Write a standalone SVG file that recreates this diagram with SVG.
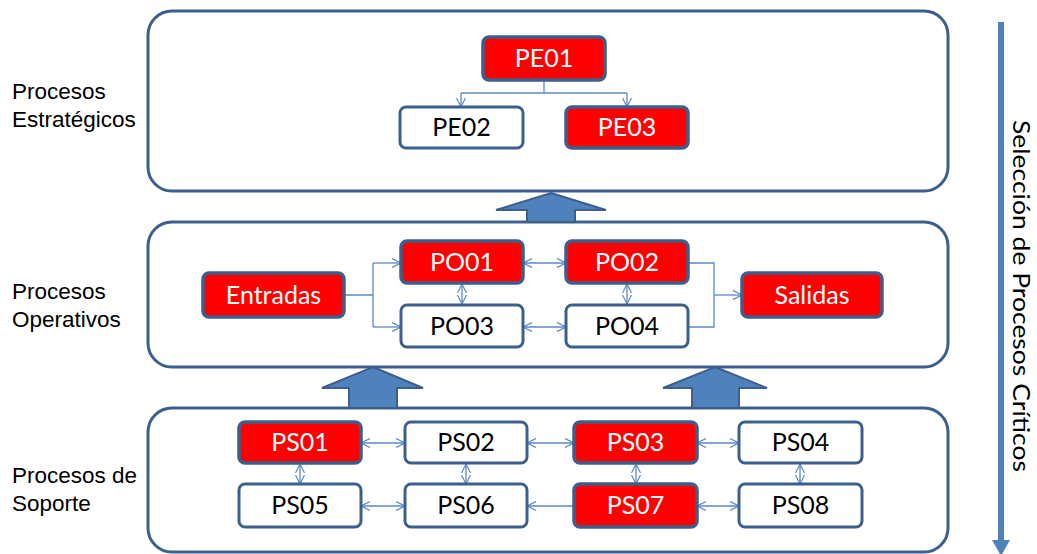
<svg xmlns="http://www.w3.org/2000/svg" width="1037" height="554" viewBox="0 0 1037 554">
<style>
.cont{fill:#fff;stroke:#3d5f8b;stroke-width:3}
.lbl{font-family:"Liberation Sans",Arial,sans-serif;font-size:22.5px;fill:#000}
.nr rect{fill:#ff0000;stroke:#3d5f8b;stroke-width:3.5}
.nw rect{fill:#fff;stroke:#3d5f8b;stroke-width:3}
.nr text,.nw text{font-family:Lato,"Open Sans",sans-serif;font-size:25px;text-anchor:middle}
.nr text{fill:#fff}
.nw text{fill:#000}
.c{fill:none;stroke:#5b89c6;stroke-width:1.3}
.big{fill:#4f81bd;stroke:#3d5f8b;stroke-width:2}
</style>
<defs>
<marker id="ah" viewBox="0 0 10 10" refX="10" refY="5" markerWidth="9" markerHeight="10" markerUnits="userSpaceOnUse" orient="auto-start-reverse">
<path d="M0,0 L10,5 L0,10" fill="none" stroke="#5b89c6" stroke-width="1.3"/>
</marker>
</defs>
<g id="containers">
<rect class="cont" x="148" y="11" width="800" height="180" rx="24"/>
<rect class="cont" x="148" y="222" width="800" height="145" rx="24"/>
<rect class="cont" x="148" y="408" width="800" height="144" rx="24"/>
</g>
<g id="labels">
<text class="lbl" x="12" y="99">Procesos</text>
<text class="lbl" x="12" y="127">Estratégicos</text>
<text class="lbl" x="12" y="299">Procesos</text>
<text class="lbl" x="12" y="327">Operativos</text>
<text class="lbl" x="12" y="483">Procesos de</text>
<text class="lbl" x="12" y="511">Soporte</text>
</g>
<g id="big-arrows">
<polygon class="big" points="551,193 606,210 575,210 575,222 527,222 527,210 496,210"/>
<polygon class="big" points="373,367 423,388 397,388 397,408 349,408 349,388 322,388"/>
<polygon class="big" points="715,367 767,388 739,388 739,408 692,408 692,388 663,388"/>
</g>
<g id="connectors">
<path class="c" d="M544,80 V93 M461,93 H627"/>
<path class="c" d="M461,93 V107" marker-end="url(#ah)"/>
<path class="c" d="M627,93 V107" marker-end="url(#ah)"/>
<path class="c" d="M344,295 H373 M373,263 V327"/>
<path class="c" d="M373,263 H401" marker-end="url(#ah)"/>
<path class="c" d="M373,327 H401" marker-end="url(#ah)"/>
<path class="c" d="M523,263 H566" marker-start="url(#ah)" marker-end="url(#ah)"/>
<path class="c" d="M523,327 H566" marker-start="url(#ah)" marker-end="url(#ah)"/>
<path class="c" d="M462,284 V304" marker-start="url(#ah)" marker-end="url(#ah)"/>
<path class="c" d="M627,284 V304" marker-start="url(#ah)" marker-end="url(#ah)"/>
<path class="c" d="M688,263 H714 V327 H688"/>
<path class="c" d="M714,295 H742" marker-end="url(#ah)"/>
<path class="c" d="M361,443 H405" marker-start="url(#ah)" marker-end="url(#ah)"/>
<path class="c" d="M527,443 H574" marker-start="url(#ah)" marker-end="url(#ah)"/>
<path class="c" d="M697,443 H739" marker-start="url(#ah)" marker-end="url(#ah)"/>
<path class="c" d="M361,506 H405" marker-start="url(#ah)" marker-end="url(#ah)"/>
<path class="c" d="M527,506 H574" marker-start="url(#ah)"/>
<path class="c" d="M697,506 H739" marker-start="url(#ah)" marker-end="url(#ah)"/>
<path class="c" d="M300,464 V484" marker-start="url(#ah)" marker-end="url(#ah)"/>
<path class="c" d="M466,464 V484" marker-start="url(#ah)" marker-end="url(#ah)"/>
<path class="c" d="M636,464 V484" marker-start="url(#ah)" marker-end="url(#ah)"/>
<path class="c" d="M800,464 V484" marker-start="url(#ah)" marker-end="url(#ah)"/>
</g>
<g id="PE01" class="nr"><rect x="483" y="37" width="122" height="43" rx="6"/><text x="544" y="67">PE01</text></g>
<g id="PE02" class="nw"><rect x="400" y="107" width="123" height="41" rx="6"/><text x="461.5" y="136">PE02</text></g>
<g id="PE03" class="nr"><rect x="566" y="107" width="122" height="41" rx="6"/><text x="627" y="136">PE03</text></g>
<g id="Entradas" class="nr"><rect x="203" y="273" width="141" height="44" rx="6"/><text x="273.5" y="303.5">Entradas</text></g>
<g id="PO01" class="nr"><rect x="401" y="241" width="122" height="42" rx="6"/><text x="462" y="270.5">PO01</text></g>
<g id="PO02" class="nr"><rect x="566" y="241" width="122" height="42" rx="6"/><text x="627" y="270.5">PO02</text></g>
<g id="PO03" class="nw"><rect x="401" y="305" width="122" height="42" rx="6"/><text x="462" y="334.5">PO03</text></g>
<g id="PO04" class="nw"><rect x="566" y="305" width="122" height="42" rx="6"/><text x="627" y="334.5">PO04</text></g>
<g id="Salidas" class="nr"><rect x="742" y="273" width="140" height="44" rx="6"/><text x="812" y="303.5">Salidas</text></g>
<g id="PS01" class="nr"><rect x="239" y="422" width="122" height="41" rx="6"/><text x="300" y="451">PS01</text></g>
<g id="PS02" class="nw"><rect x="405" y="422" width="122" height="41" rx="6"/><text x="466" y="451">PS02</text></g>
<g id="PS03" class="nr"><rect x="574" y="422" width="123" height="41" rx="6"/><text x="635.5" y="451">PS03</text></g>
<g id="PS04" class="nw"><rect x="739" y="422" width="123" height="41" rx="6"/><text x="800.5" y="451">PS04</text></g>
<g id="PS05" class="nw"><rect x="239" y="484" width="122" height="43" rx="6"/><text x="300" y="514">PS05</text></g>
<g id="PS06" class="nw"><rect x="405" y="484" width="122" height="43" rx="6"/><text x="466" y="514">PS06</text></g>
<g id="PS07" class="nr"><rect x="574" y="484" width="123" height="43" rx="6"/><text x="635.5" y="514">PS07</text></g>
<g id="PS08" class="nw"><rect x="739" y="484" width="123" height="43" rx="6"/><text x="800.5" y="514">PS08</text></g>
<g id="side">
<line x1="1001" y1="22" x2="1001" y2="541" stroke="#4f81bd" stroke-width="6"/>
<polygon points="992,540 1010,540 1001,556" fill="#4f81bd"/>
<text transform="translate(1013,296) rotate(90)" x="0" y="0" text-anchor="middle" font-family="Lato,'Open Sans',sans-serif" font-size="24" textLength="352" lengthAdjust="spacingAndGlyphs" fill="#000">Selección de Procesos Críticos</text>
</g>
</svg>
